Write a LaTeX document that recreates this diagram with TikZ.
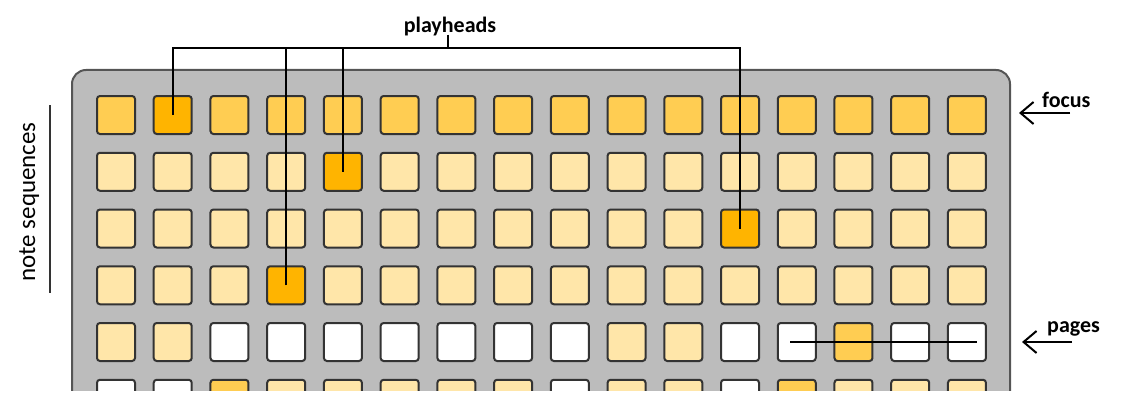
\documentclass[tikz,border=0pt]{standalone}
\usepackage{fontspec}
\setmainfont{Carlito}
\usetikzlibrary{arrows.meta}
\definecolor{cM}{HTML}{FFCD52}
\definecolor{cD}{HTML}{FFB400}
\definecolor{cL}{HTML}{FFE6A9}
\definecolor{cW}{HTML}{FFFFFF}
\definecolor{panel}{HTML}{BCBCBC}
\definecolor{panelline}{HTML}{555555}
\definecolor{sqline}{HTML}{333333}
\tikzset{
  sq/.style={draw=sqline, line width=2pt, rounded corners=3pt, minimum size=38pt, inner sep=0pt},
  sqM/.style={fill=cM}, sqD/.style={fill=cD}, sqL/.style={fill=cL}, sqW/.style={fill=cW},
  lab/.style={font=\fontsize{22}{26}\selectfont\bfseries, inner sep=0pt},
  wire/.style={line width=2pt, black},
  pointer/.style={line width=2pt, black, -{Straight Barb[length=13pt,width=22pt,line width=2pt]}}
}
\begin{document}
\begin{tikzpicture}[x=1pt,y=-1pt]
\useasboundingbox (0,0) rectangle (1122,412);
\begin{scope}
\clip (0,0) rectangle (1122,390);
\path[fill=panel, draw=panelline, line width=2pt, rounded corners=14pt] (72,395) -- (72,70) -- (1010,70) -- (1010,395);
\def\rowsq#1#2{%
  \foreach \c [count=\i] in {#2} {
    \node[sq,\c] (s-#1-\i) at ({116+(\i-1)*56.73},{115+(#1-1)*56.75}) {};
  }}
\rowsq{1}{sqM,sqD,sqM,sqM,sqM,sqM,sqM,sqM,sqM,sqM,sqM,sqM,sqM,sqM,sqM,sqM}
\rowsq{2}{sqL,sqL,sqL,sqL,sqD,sqL,sqL,sqL,sqL,sqL,sqL,sqL,sqL,sqL,sqL,sqL}
\rowsq{3}{sqL,sqL,sqL,sqL,sqL,sqL,sqL,sqL,sqL,sqL,sqL,sqD,sqL,sqL,sqL,sqL}
\rowsq{4}{sqL,sqL,sqL,sqD,sqL,sqL,sqL,sqL,sqL,sqL,sqL,sqL,sqL,sqL,sqL,sqL}
\rowsq{5}{sqL,sqL,sqW,sqW,sqW,sqW,sqW,sqW,sqW,sqL,sqL,sqW,sqW,sqM,sqW,sqW}
\rowsq{6}{sqW,sqW,sqM,sqL,sqL,sqL,sqL,sqL,sqW,sqL,sqL,sqW,sqM,sqL,sqL,sqL}
\end{scope}
% playheads
\node[lab, anchor=base] (ph) at (450,33) {playheads};
\coordinate (bar) at (448,48.5);
\draw[wire] (ph.south -| bar) ++(0,-2) -- (bar);
\draw[wire] (s-1-2.center) -- (s-1-2.center |- bar) -- (s-3-12.center |- bar) -- (s-3-12.center);
\draw[wire] (s-2-5.center) -- (s-2-5.center |- bar);
\draw[wire] (s-4-4.center) -- (s-4-4.center |- bar);
% focus
\node[lab, anchor=base west] (focus) at (1042,107) {focus};
\coordinate (ftail) at (1070,113);
\coordinate (ftip) at (1019,113);
\draw[pointer] (ftail) -- (ftip);
% pages
\node[lab, anchor=base west] (pages) at (1047,332) {pages};
\coordinate (ptail) at (1072,342);
\coordinate (ptip) at (1022,342);
\draw[pointer] (ptail) -- (ptip);
\coordinate (pl1) at (790,342);
\coordinate (pl2) at (977,342);
\draw[wire] (pl1) -- (pl2);
% note sequences
\node[font=\fontsize{25}{29}\selectfont, inner sep=0pt, rotate=90, anchor=base] (ns) at (35,202) {note sequences};
\coordinate (ns1) at (50,105);
\coordinate (ns2) at (50,293);
\draw[line width=2pt, sqline] (ns1) -- (ns2);
\end{tikzpicture}
\end{document}
